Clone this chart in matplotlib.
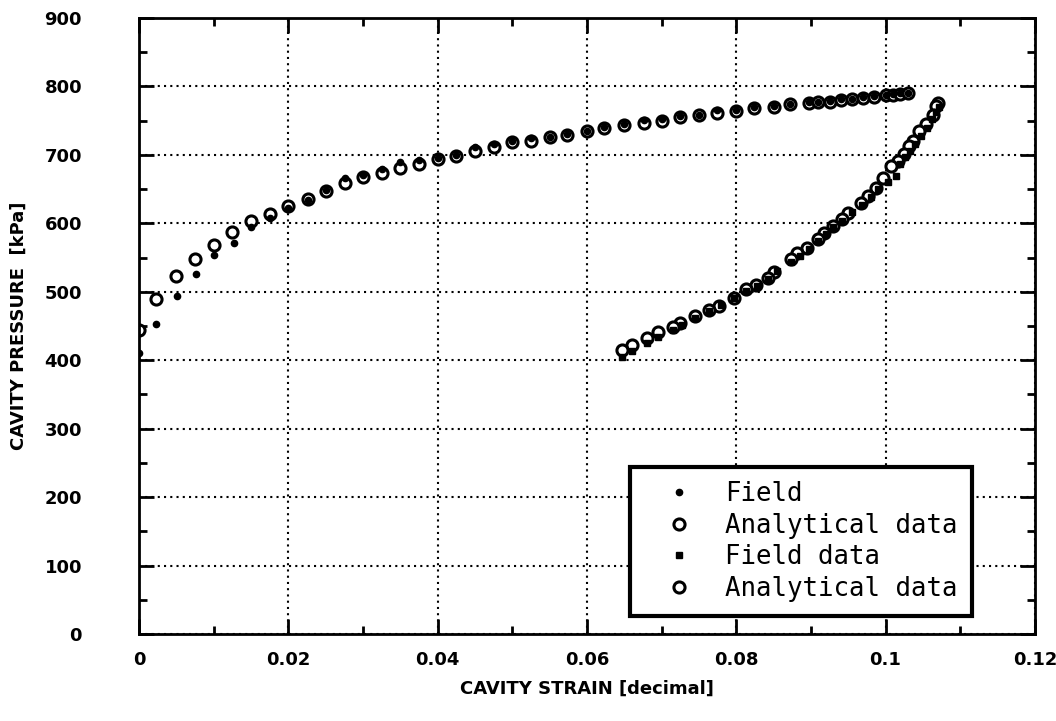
import numpy as np
import matplotlib
matplotlib.use("Agg")
import matplotlib.pyplot as plt
from matplotlib.ticker import MultipleLocator, FormatStrFormatter

# loading branch
load_strain_field = [0, 0.0023, 0.0051, 0.0077, 0.010, 0.0127, 0.015, 0.0176, 0.020, 0.0226,
                     0.025, 0.0276, 0.030, 0.0325, 0.035, 0.0375, 0.040, 0.0425, 0.045, 0.0476,
                     0.050, 0.0525, 0.055, 0.0573, 0.060, 0.0623, 0.065, 0.0676, 0.070, 0.0725,
                     0.075, 0.0774, 0.080, 0.0824, 0.085, 0.0872, 0.0898, 0.091, 0.0925, 0.094,
                     0.0955, 0.097, 0.0985, 0.100, 0.101, 0.102, 0.103]
load_p_field = [411, 453, 494, 526, 554, 571, 595, 608, 622, 634,
                648, 666, 671, 679, 689, 692, 696, 700, 711, 716,
                721, 724, 726, 731, 735, 741, 745, 751, 752, 757,
                759, 765, 765, 770, 772, 775, 777, 778, 779, 781,
                782, 784, 786, 788, 789, 790, 791]
load_strain_ana = [0, 0.0023, 0.005, 0.0075, 0.010, 0.0124, 0.015, 0.0176, 0.020, 0.0226,
                   0.025, 0.0276, 0.030, 0.0325, 0.035, 0.0375, 0.040, 0.0425, 0.045, 0.0476,
                   0.050, 0.0525, 0.055, 0.0573, 0.060, 0.0623, 0.065, 0.0676, 0.070, 0.0725,
                   0.075, 0.0774, 0.080, 0.0824, 0.085, 0.0872, 0.0898, 0.091, 0.0925, 0.094,
                   0.0955, 0.097, 0.0985, 0.100, 0.101, 0.102, 0.103]
load_p_ana = [444, 489, 523, 548, 568, 587, 603, 614, 625, 636,
              647, 659, 668, 674, 681, 687, 694, 698, 706, 712,
              719, 720, 726, 729, 735, 739, 744, 747, 750, 755,
              758, 761, 764, 768, 770, 774, 776, 777, 778, 780,
              781, 783, 785, 787, 788, 789, 790]

# unloading branch
unload_strain_field = [0.1072, 0.1068, 0.1062, 0.1055, 0.1047, 0.104, 0.1033, 0.1026, 0.1019, 0.1014,
                       0.1003, 0.099, 0.098, 0.0968, 0.0955, 0.0942, 0.093, 0.092, 0.091, 0.0898,
                       0.0885, 0.0873, 0.0855, 0.0842, 0.0828, 0.0813, 0.0797, 0.078, 0.0764, 0.0745,
                       0.0728, 0.0715, 0.0695, 0.068, 0.066, 0.0647]
unload_p_field = [770, 762, 752, 740, 727, 716, 706, 697, 686, 669,
                  661, 650, 638, 627, 616, 604, 594, 584, 574, 563,
                  553, 544, 530, 519, 509, 501, 491, 480, 472, 461,
                  452, 444, 434, 425, 414, 405]
unload_strain_ana = [0.107, 0.1068, 0.1063, 0.1054, 0.1045, 0.1037, 0.1031, 0.1025, 0.1017, 0.1007,
                     0.0996, 0.0987, 0.0976, 0.0967, 0.095, 0.0942, 0.093, 0.0917, 0.091, 0.0895,
                     0.0882, 0.0873, 0.085, 0.0842, 0.0826, 0.0813, 0.0797, 0.0777, 0.0764, 0.0745,
                     0.0725, 0.0715, 0.0695, 0.068, 0.066, 0.0647]
unload_p_ana = [776, 771, 758, 745, 735, 720, 713, 701, 691, 684,
                666, 652, 640, 630, 615, 606, 596, 586, 577, 564,
                557, 548, 529, 520, 510, 504, 491, 479, 473, 464,
                454, 448, 441, 432, 422, 415]

fig = plt.figure(figsize=(10.56, 7.21), dpi=100)
ax = fig.add_axes([0.1316, 0.1207, 0.8484, 0.8543])

ax.plot(load_strain_field, load_p_field, 'o', color='black', markersize=4.5,
        label='Field', zorder=3)
ax.plot(load_strain_ana, load_p_ana, 'o', mfc='white', mec='black', mew=2.2,
        markersize=8, label='Analytical data', zorder=2)
ax.plot(unload_strain_field, unload_p_field, 's', color='black', markersize=4.5,
        label='Field data', zorder=3)
ax.plot(unload_strain_ana, unload_p_ana, 'o', mfc='white', mec='black', mew=2.2,
        markersize=8, label='Analytical data', zorder=2)

ax.set_xlim(0, 0.12)
ax.set_ylim(0, 900)
ax.xaxis.set_major_locator(MultipleLocator(0.02))
ax.xaxis.set_minor_locator(MultipleLocator(0.01))
ax.yaxis.set_major_locator(MultipleLocator(100))
ax.yaxis.set_minor_locator(MultipleLocator(50))
ax.xaxis.set_major_formatter(FormatStrFormatter('%g'))

ax.grid(True, which='major', color='black', linestyle=(0, (1, 2)), linewidth=1.5)
ax.tick_params(which='both', direction='in', top=True, right=True, width=2,
               labelsize=13)
ax.tick_params(which='major', length=11)
ax.tick_params(which='minor', length=6)
ax.tick_params(axis='x', pad=12)
ax.tick_params(axis='y', pad=41)
for lab in ax.get_xticklabels() + ax.get_yticklabels():
    lab.set_fontweight('bold')
for sp in ax.spines.values():
    sp.set_linewidth(2)

ax.set_xlabel('CAVITY STRAIN [decimal]', fontsize=13, fontweight='bold', labelpad=8)
ax.set_ylabel('CAVITY PRESSURE  [kPa]', fontsize=13, fontweight='bold', labelpad=12)

leg = ax.legend(loc='upper left', bbox_to_anchor=(0.548, 0.271), frameon=True,
                fancybox=False, prop={'family': 'DejaVu Sans Mono', 'size': 18.5},
                handletextpad=0.43, labelspacing=0.22, borderpad=0.55, handlelength=2.72,
                borderaxespad=0)
leg.get_frame().set_edgecolor('black')
leg.get_frame().set_linewidth(3)
leg.get_frame().set_alpha(1)

fig.savefig('out.png', dpi=100)
